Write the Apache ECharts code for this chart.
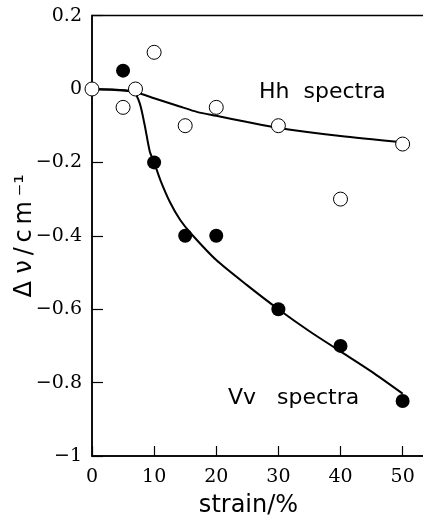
<!DOCTYPE html>
<html><head><meta charset="utf-8">
<script src="https://cdn.jsdelivr.net/npm/echarts@6/dist/echarts.min.js"></script>
<style>html,body{margin:0;padding:0;background:#fff}#c{width:423px;height:519px}</style>
</head><body><div id="c"></div>
<script>
// Measured points
var vvStrain = [5, 10, 15, 20, 30, 40, 50];
var vvShift  = [0.05, -0.2, -0.4, -0.4, -0.6, -0.7, -0.85];
var hhStrain = [0, 5, 7, 10, 15, 20, 30, 40, 50];
var hhShift  = [0, -0.05, 0, 0.1, -0.1, -0.05, -0.1, -0.3, -0.15];
// Fitted guide curves
var hhCurveX = [0, 5, 7, 10, 14, 17, 20, 25, 30, 40, 50];
var hhCurveY = [0, -0.004, -0.009, -0.025, -0.047, -0.063, -0.073, -0.09, -0.106, -0.128, -0.145];
var vvCurveX = [0, 4, 6.7, 7.7, 8.5, 9.3, 10, 11, 12.6, 14.2, 16, 20, 25, 30, 35, 40, 45, 50];
var vvCurveY = [0, -0.002, -0.008, -0.04, -0.1, -0.17, -0.2, -0.248, -0.31, -0.357, -0.395, -0.466, -0.535, -0.6, -0.66, -0.715, -0.77, -0.83];
var xTicks = [0, 10, 20, 30, 40, 50];
var yTicks = [-1, -0.8, -0.6, -0.4, -0.2, 0, 0.2];

function zip(a, b) { return a.map(function (v, i) { return [v, b[i]]; }); }
var chart = echarts.init(document.getElementById('c'));
var serif = '"DejaVu Serif", "Liberation Serif", serif';
var sans = '"DejaVu Sans", "Liberation Sans", Arial, sans-serif';
chart.setOption({
  animation: false,
  grid: { left: 92, top: 15.6, right: -2, bottom: 63, outerBoundsMode: 'none', containLabel: false,
          show: true, borderColor: '#000', borderWidth: 1.5 },
  xAxis: {
    type: 'value', min: 0, max: 53.6, interval: 10,
    name: 'strain/%', nameLocation: 'middle', nameGap: 38, nameMoveOverlap: false,
    nameTextStyle: { fontFamily: sans, fontSize: 24, color: '#000', padding: [0, 20, 0, 0] },
    axisLine: { onZero: false, lineStyle: { color: '#000', width: 1.5 } },
    axisTick: { inside: true, length: 10, lineStyle: { color: '#000', width: 1.2 } },
    splitLine: { show: false },
    axisLabel: {
      margin: 12, color: '#000', fontFamily: serif, fontSize: 19,
      formatter: function (v) { return xTicks.indexOf(v) >= 0 ? String(v) : ''; }
    }
  },
  yAxis: {
    type: 'value', min: -1, max: 0.2, interval: 0.2,
    name: 'Δ ν\u2009/\u2009c\u2009m\u2009⁻¹', nameLocation: 'middle', nameGap: 55, nameMoveOverlap: false,
    nameTextStyle: { fontFamily: sans, fontSize: 24, color: '#000' },
    axisLine: { onZero: false, lineStyle: { color: '#000', width: 1.5 } },
    axisTick: { inside: true, length: 11, lineStyle: { color: '#000', width: 1.2 } },
    splitLine: { show: false },
    axisLabel: {
      margin: 10, color: '#000', fontFamily: serif, fontSize: 19,
      formatter: function (v) {
        var r = Math.round(v * 10) / 10;
        return String(r).replace('-', '−');
      }
    }
  },
  graphic: [
    { type: 'text', left: 259, top: 81, style: { text: 'Hh  spectra', fontFamily: sans, fontSize: 22, fill: '#000' } },
    { type: 'text', left: 228, top: 387, style: { text: 'Vv   spectra', fontFamily: sans, fontSize: 22, fill: '#000' } }
  ],
  series: [
    { type: 'line', data: zip(hhCurveX, hhCurveY), smooth: 0.25, symbol: 'none', lineStyle: { color: '#000', width: 2 }, z: 2 },
    { type: 'line', data: zip(vvCurveX, vvCurveY), smooth: 0.25, symbol: 'none', lineStyle: { color: '#000', width: 2 }, z: 2 },
    { type: 'scatter', data: zip(hhStrain, hhShift), symbol: 'circle', symbolSize: 14,
      itemStyle: { color: '#fff', borderColor: '#000', borderWidth: 1, opacity: 1 }, z: 3 },
    { type: 'scatter', data: zip(vvStrain, vvShift), symbol: 'circle', symbolSize: 14,
      itemStyle: { color: '#000', opacity: 1 }, z: 3 }
  ]
});
</script></body></html>
